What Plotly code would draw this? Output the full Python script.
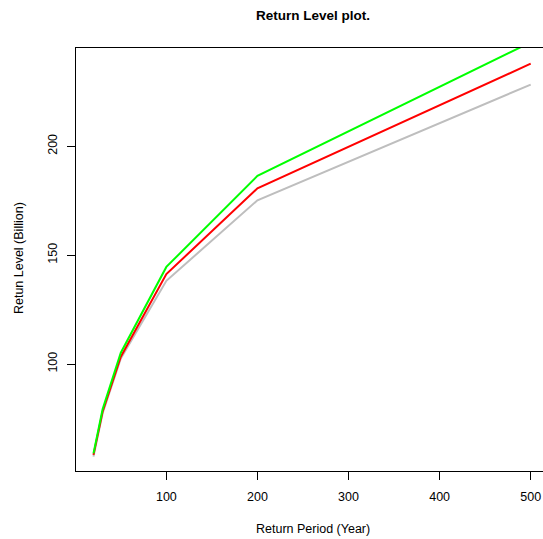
import plotly.graph_objects as go

return_period = [20, 30, 50, 100, 200, 500]
level_upper = [59.0, 79.2, 105.2, 144.6, 186.4, 247.7]
level_mid = [58.3, 78.1, 103.4, 141.3, 180.7, 237.9]
level_lower = [57.5, 77.4, 102.6, 138.2, 175.2, 228.3]
x_ticks = [100, 200, 300, 400, 500]
y_ticks = [100, 150, 200]

W, H = 543, 539
L, T, B, R = 75.5, 48, 68, 0
FONT = "Liberation Sans, Arial, Helvetica, sans-serif"

fig = go.Figure()
fig.add_trace(go.Scatter(x=return_period, y=level_lower, mode="lines",
                         line=dict(color="#BEBEBE", width=2), showlegend=False))
fig.add_trace(go.Scatter(x=return_period, y=level_mid, mode="lines",
                         line=dict(color="#FF0000", width=2), showlegend=False))
fig.add_trace(go.Scatter(x=return_period, y=level_upper, mode="lines",
                         line=dict(color="#00FF00", width=2), showlegend=False))

pw = W - L - R
ph = H - T - B

fig.update_layout(
    width=W, height=H,
    margin=dict(l=L, r=R, t=T, b=B, pad=0),
    paper_bgcolor="white", plot_bgcolor="white",
    font=dict(family=FONT, size=12.5, color="black"),
    title=dict(text="<b>Return Level plot.</b>", x=313 / W, xanchor="center",
               xref="container",
               y=1 - 15 / H, yanchor="middle", yref="container",
               font=dict(size=13.5, family=FONT, color="black")),
    xaxis=dict(range=[0.8, 513.5], tickvals=x_ticks, ticks="outside", ticklen=8,
               tickcolor="black", tickwidth=1, showgrid=False, zeroline=False,
               showline=True, linecolor="black", linewidth=1, mirror=True,
               tickfont=dict(size=12.5), ticklabelstandoff=6),
    yaxis=dict(range=[50.9, 245.1], tickvals=y_ticks, ticks="outside", ticklen=8,
               tickcolor="black", tickwidth=1, showgrid=False, zeroline=False,
               showline=True, linecolor="black", linewidth=1,
               tickangle=-90, tickfont=dict(size=12.5), ticklabelstandoff=5),
    annotations=[
        dict(text="Return Period (Year)", x=(313 - L) / pw, y=(H - B - 529) / ph,
             xref="paper", yref="paper", showarrow=False,
             xanchor="center", yanchor="middle", font=dict(size=12.5)),
        dict(text="Retun Level (Billion)", x=(18 - L) / pw, y=(H - B - 258.5) / ph,
             xref="paper", yref="paper", showarrow=False, textangle=-90,
             xanchor="center", yanchor="middle", font=dict(size=12.5)),
    ],
)

fig.write_html("out.html", config={"displayModeBar": False, "staticPlot": True})

# remove the default page margin so the figure sits at the window's top-left corner
with open("out.html", "r", encoding="utf-8") as f:
    html = f.read()
html = html.replace("<head>", "<head><style>html,body{margin:0;padding:0;overflow:hidden;}</style>", 1)
with open("out.html", "w", encoding="utf-8") as f:
    f.write(html)
